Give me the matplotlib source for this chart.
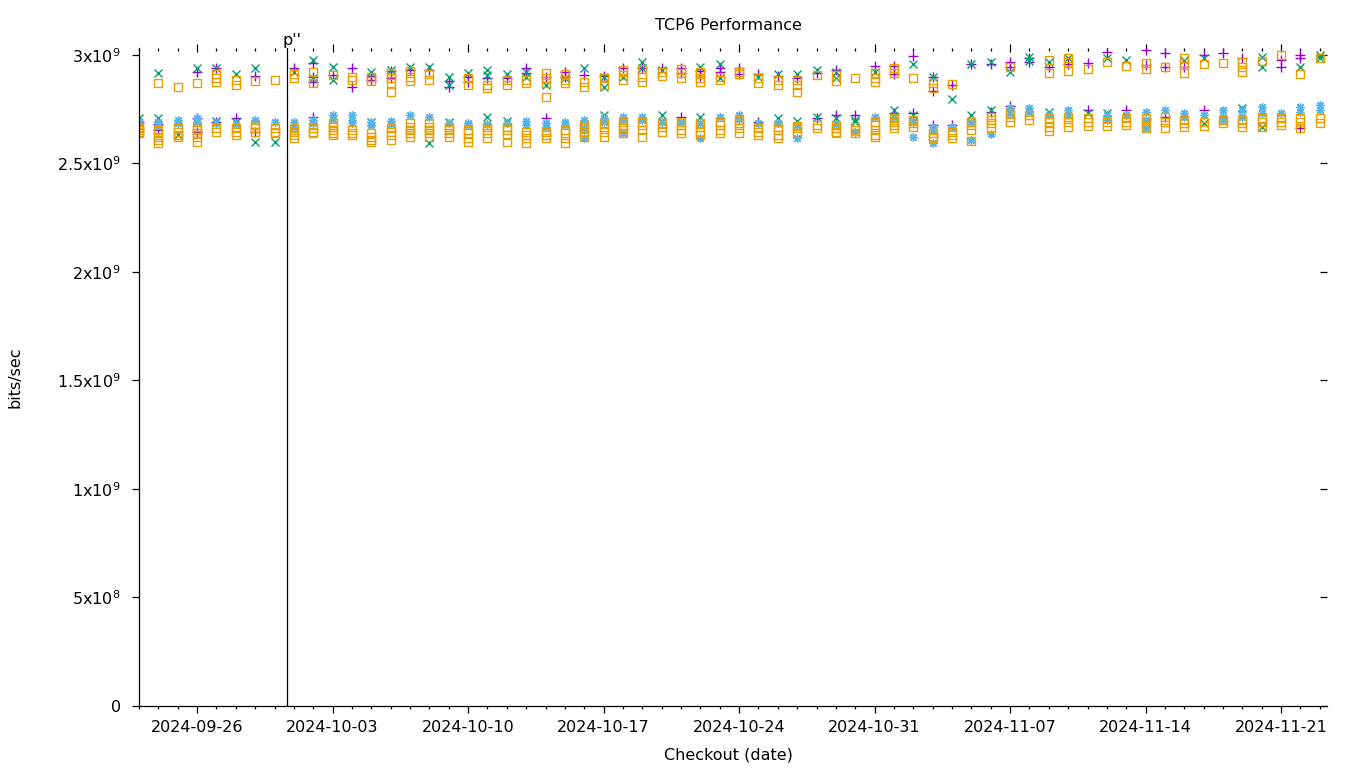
import datetime as dt
import matplotlib
matplotlib.use("Agg")
import matplotlib.pyplot as plt
import matplotlib.dates as mdates
import pandas as pd

# data (bits/sec, in units of 1e9), one inner list per checkout day
dates = pd.date_range("2024-09-23", "2024-11-23", freq="D")
marker_date = dt.datetime(2024, 9, 30, 15, 30)
marker_label = "p''"

purple_vals = [
    [2.690], [2.680, 2.654], [], [2.923, 2.708, 2.647], [2.942, 2.690], [2.708],
    [2.905, 2.647], [], [2.939], [2.962, 2.900, 2.877, 2.716], [2.908], [2.939, 2.854],
    [2.905, 2.885], [2.926, 2.893], [2.931], [2.931], [2.880, 2.854], [2.900, 2.877],
    [2.893], [2.893], [2.939, 2.916], [2.900, 2.708], [2.923, 2.900], [2.908],
    [2.905], [2.939], [2.942], [2.942], [2.942, 2.916, 2.716], [2.926, 2.905],
    [2.939, 2.920], [2.939, 2.911], [2.911, 2.693], [2.905], [2.896], [2.916, 2.708],
    [2.931, 2.724], [2.724], [2.951], [2.951, 2.911, 2.731], [2.997, 2.731],
    [2.900, 2.834, 2.677], [2.862, 2.677], [2.957], [2.957, 2.739], [2.969, 2.946, 2.767],
    [2.985, 2.969], [2.946], [2.957], [2.962, 2.747], [3.015], [2.747],
    [3.023, 2.954], [3.008, 2.946, 2.716], [2.946], [3.000, 2.747], [3.008], [2.985],
    [], [2.977, 2.946], [3.000, 2.985, 2.662], [],
]
green_vals = [
    [2.711], [2.916, 2.708], [2.631], [2.942, 2.690], [2.939, 2.696], [2.911, 2.690],
    [2.939, 2.601], [2.601], [2.920], [2.977, 2.893], [2.946, 2.885], [],
    [2.923, 2.690], [2.931], [2.946], [2.946, 2.593], [2.900, 2.862, 2.690], [2.916],
    [2.931, 2.908, 2.716], [2.911, 2.696], [2.923, 2.900], [2.862], [2.893], [2.942],
    [2.900, 2.854, 2.724], [2.900], [2.969, 2.942], [2.931, 2.724], [], [2.946, 2.716],
    [2.957, 2.893], [], [2.900], [2.911, 2.708], [2.911, 2.696], [2.931, 2.716],
    [2.923, 2.893, 2.708], [2.700, 2.690], [2.923], [2.747], [2.957, 2.724], [2.900],
    [2.797], [2.957, 2.724], [2.969, 2.747], [2.920], [2.992, 2.972], [2.969, 2.739],
    [2.985], [2.731], [2.988, 2.731], [2.977], [], [],
    [2.977], [2.985, 2.685], [], [2.754], [2.992, 2.943, 2.670], [], [2.943], [3.000, 2.985],
]
blue_vals = [
    [2.696, 2.685], [2.693, 2.677], [2.700, 2.685], [2.708, 2.693], [2.685], [2.680],
    [2.700], [2.690], [2.690, 2.670], [2.700, 2.685], [2.724, 2.705], [2.724, 2.700, 2.685],
    [2.693, 2.677], [2.696, 2.680], [2.724], [2.716], [2.685], [2.685, 2.677],
    [2.680], [2.685], [2.696, 2.677], [2.685, 2.670], [2.693, 2.677], [2.700, 2.662, 2.616],
    [2.708, 2.693], [2.716, 2.700, 2.639], [2.716, 2.700], [2.693], [2.693], [2.685, 2.616],
    [2.716], [2.724, 2.705], [2.685], [2.685], [2.677, 2.616], [],
    [2.680], [2.647], [2.716], [2.716], [2.690, 2.624], [2.670, 2.654, 2.593],
    [2.670], [2.693, 2.608], [2.636], [2.754, 2.731], [2.754, 2.739], [2.724],
    [2.747, 2.724], [], [2.724, 2.700], [2.724], [2.739, 2.700, 2.662], [2.747],
    [2.731, 2.716], [2.724], [2.747, 2.716, 2.700], [2.747, 2.716], [2.762, 2.731], [2.731],
    [2.762, 2.739], [2.770, 2.747],
]
orange_vals = [
    [2.670, 2.662, 2.654, 2.647, 2.639], [2.870, 2.654, 2.639, 2.624, 2.608, 2.593],
    [2.851, 2.662, 2.647, 2.631, 2.624], [2.870, 2.670, 2.654, 2.639, 2.624, 2.601],
    [2.911, 2.896, 2.877, 2.662, 2.647], [2.885, 2.862, 2.662, 2.647, 2.631],
    [2.880, 2.677, 2.662, 2.647], [2.885, 2.662, 2.647, 2.639],
    [2.911, 2.896, 2.662, 2.647, 2.631, 2.616], [2.923, 2.870, 2.662, 2.647, 2.639],
    [2.908, 2.685, 2.670, 2.654, 2.639, 2.631], [2.900, 2.885, 2.654, 2.639, 2.631],
    [2.900, 2.880, 2.639, 2.624, 2.608, 2.601], [2.916, 2.893, 2.870, 2.831, 2.662, 2.647, 2.631, 2.608],
    [2.926, 2.900, 2.880, 2.685, 2.670, 2.654, 2.639, 2.624], [2.911, 2.885, 2.685, 2.670, 2.654, 2.639, 2.624],
    [2.670, 2.654, 2.639, 2.624], [2.893, 2.862, 2.654, 2.639, 2.616, 2.601],
    [2.862, 2.846, 2.670, 2.654, 2.639, 2.616], [2.885, 2.862, 2.670, 2.654, 2.631, 2.601],
    [2.885, 2.870, 2.647, 2.631, 2.616, 2.593], [2.916, 2.893, 2.870, 2.805, 2.647, 2.631, 2.616],
    [2.911, 2.885, 2.870, 2.654, 2.639, 2.616, 2.593], [2.877, 2.851, 2.677, 2.662, 2.647, 2.624],
    [2.893, 2.862, 2.685, 2.670, 2.647, 2.624], [2.931, 2.908, 2.885, 2.693, 2.677, 2.662, 2.639],
    [2.934, 2.900, 2.877, 2.693, 2.677, 2.654, 2.624], [2.920, 2.905, 2.685, 2.670, 2.647],
    [2.934, 2.916, 2.896, 2.693, 2.677, 2.654, 2.639], [2.923, 2.896, 2.877, 2.685, 2.670, 2.647, 2.631],
    [2.900, 2.885, 2.693, 2.677, 2.654, 2.639], [2.923, 2.911, 2.700, 2.685, 2.662, 2.639],
    [2.893, 2.870, 2.662, 2.647, 2.631], [2.885, 2.862, 2.670, 2.654, 2.631, 2.616],
    [2.885, 2.862, 2.828, 2.674, 2.662, 2.639], [2.908, 2.677, 2.662],
    [2.908, 2.880, 2.677, 2.662, 2.647, 2.639], [2.896, 2.670, 2.654, 2.639],
    [2.916, 2.896, 2.877, 2.693, 2.677, 2.654, 2.631, 2.624], [2.939, 2.916, 2.708, 2.693, 2.677, 2.662],
    [2.893, 2.700, 2.685, 2.670], [2.870, 2.846, 2.639, 2.624, 2.616],
    [2.865, 2.644, 2.631, 2.616], [2.693, 2.677, 2.654, 2.604],
    [2.716, 2.700, 2.685, 2.662], [2.946, 2.731, 2.716, 2.693],
    [2.724, 2.700], [2.977, 2.916, 2.708, 2.693, 2.670, 2.651],
    [2.985, 2.969, 2.926, 2.716, 2.693, 2.670], [2.934, 2.708, 2.690, 2.674],
    [2.966, 2.693, 2.674], [2.949, 2.708, 2.693, 2.677],
    [2.962, 2.934, 2.708, 2.685, 2.662], [2.946, 2.716, 2.693, 2.662],
    [2.985, 2.962, 2.916, 2.700, 2.685, 2.670], [2.957, 2.690, 2.674],
    [2.962, 2.700, 2.685], [2.969, 2.946, 2.920, 2.700, 2.685, 2.670],
    [2.972, 2.708, 2.693, 2.670], [3.000, 2.708, 2.693, 2.677],
    [2.911, 2.708, 2.690, 2.662], [2.985, 2.708, 2.685],
]

ytick_vals = [0, 0.5e9, 1e9, 1.5e9, 2e9, 2.5e9, 3e9]
ytick_labels = ["0", r"5x10$^{8}$", r"1x10$^{9}$", r"1.5x10$^{9}$",
                r"2x10$^{9}$", r"2.5x10$^{9}$", r"3x10$^{9}$"]

# style
plt.rcParams["font.family"] = "DejaVu Sans"
FS = 11.5
star = (8, 2, 0)   # gnuplot-like '*' (plus and cross combined)
series = [
    (purple_vals, "+", "#9400d3", 6.5),
    (green_vals, "x", "#009e73", 5.5),
    (blue_vals, star, "#56b4e9", 6.0),
    (orange_vals, "s", "#e69f00", 5.5),
]

fig = plt.figure(figsize=(13.6, 7.68), dpi=100)
ax = fig.add_axes([139 / 1360, 1 - 706 / 768, (1327 - 139) / 1360, (706 - 48) / 768])

for vals, mk, col, ms in series:
    xs, ys = [], []
    for d, day_vals in zip(dates, vals):
        for v in day_vals:
            xs.append(d)
            ys.append(v * 1e9)
    if mk == "s":
        ax.plot(xs, ys, linestyle="none", marker=mk, markersize=ms, markerfacecolor="none",
                markeredgecolor=col, markeredgewidth=1.0)
    else:
        ax.plot(xs, ys, linestyle="none", marker=mk, markersize=ms, color=col,
                markeredgewidth=1.0)

ax.axvline(marker_date, color="black", linewidth=0.9)
ax.annotate(marker_label, xy=(marker_date, 1), xycoords=("data", "axes fraction"),
            xytext=(-3.6, 0), textcoords="offset points", ha="left", va="bottom",
            fontsize=FS)

ax.set_ylim(0, 3.032e9)
ax.set_xlim(dates[0], dates[0] + pd.Timedelta(days=61.37))

ax.set_yticks(ytick_vals)
ax.set_yticklabels(ytick_labels, fontsize=FS)
ax.xaxis.set_major_locator(mdates.WeekdayLocator(byweekday=mdates.TH))
ax.xaxis.set_minor_locator(mdates.DayLocator())
ax.xaxis.set_major_formatter(mdates.DateFormatter("%Y-%m-%d"))
for lab in ax.get_xticklabels():
    lab.set_fontsize(FS)

ax.spines["top"].set_visible(False)
ax.spines["right"].set_visible(False)
for s in ("left", "bottom"):
    ax.spines[s].set_linewidth(0.9)
ax.tick_params(axis="x", which="major", direction="out", length=5, width=0.9, pad=5, labelsize=FS)
ax.tick_params(axis="x", which="minor", direction="out", length=2.5, width=0.9)
ax.tick_params(axis="y", which="major", direction="out", length=5, width=0.9, pad=8, labelsize=FS)

# mirrored ticks (top / right), no labels
top = ax.secondary_xaxis("top")
top.xaxis.set_major_locator(mdates.WeekdayLocator(byweekday=mdates.TH))
top.xaxis.set_minor_locator(mdates.DayLocator())
top.tick_params(axis="x", which="major", direction="inout", length=6, width=0.9, labeltop=False)
top.tick_params(axis="x", which="minor", direction="in", length=2.5, width=0.9)
top.spines["top"].set_visible(False)

right = ax.secondary_yaxis("right")
right.set_yticks(ytick_vals)
right.tick_params(axis="y", direction="in", length=5, width=0.9, labelright=False)
right.spines["right"].set_visible(False)

fig.text(728 / 1360, 1 - 26 / 768, "TCP6 Performance", ha="center", va="center", fontsize=FS)
fig.text(728 / 1360, 1 - 755 / 768, "Checkout (date)", ha="center", va="center", fontsize=FS)
fig.text(15 / 1360, 1 - 377 / 768, "bits/sec", ha="center", va="center", rotation=90, fontsize=FS)

fig.savefig("out.png", dpi=100)
